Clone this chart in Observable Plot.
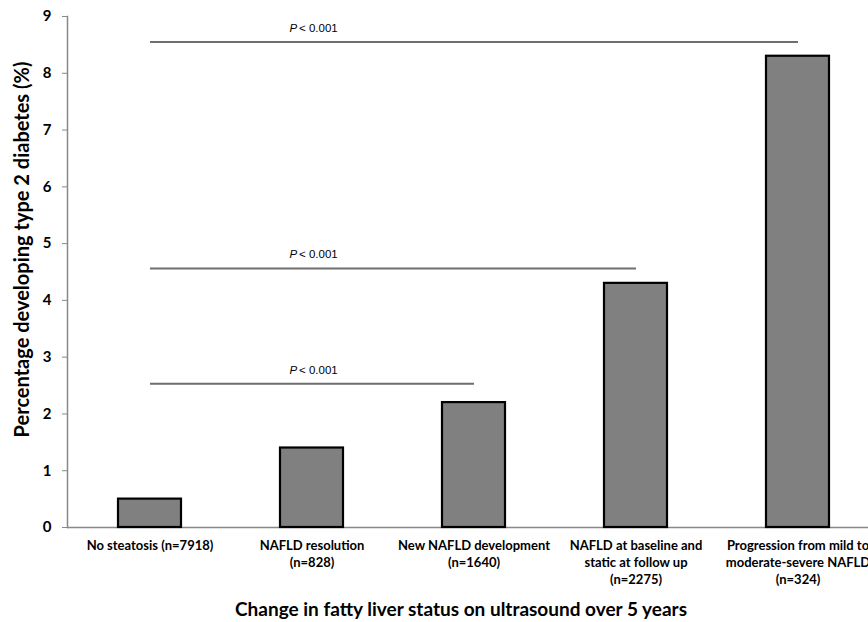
<!DOCTYPE html>
<html><head><meta charset="utf-8">
<script src="https://cdn.jsdelivr.net/npm/d3@7"></script>
<script src="https://cdn.jsdelivr.net/npm/@observablehq/plot@0.6"></script>
<style>html,body{margin:0;padding:0;overflow:hidden;background:#fff} svg{max-width:none !important;height:622px !important}</style>
</head><body><div id="chart"></div>
<script>
const categories = [
  "No steatosis (n=7918)",
  "NAFLD resolution\n(n=828)",
  "New NAFLD development\n(n=1640)",
  "NAFLD at baseline and\nstatic at follow up\n(n=2275)",
  "Progression from mild to\nmoderate-severe NAFLD\n(n=324)"
];
const values = [0.5, 1.4, 2.2, 4.3, 8.3];
const yTicks = [0, 1, 2, 3, 4, 5, 6, 7, 8, 9];
const compFrom = [categories[0], categories[0], categories[0]];
const compTo = [categories[4], categories[3], categories[2]];
const compY = [8.55, 4.56, 2.53];
const pText = "< 0.001";
const xTitle = "Change in fatty liver status on ultrasound over 5 years";
const yTitle = "Percentage developing type 2 diabetes (%)";

const bars = categories.map((c, i) => ({cat: c, value: values[i]}));
const comps = compY.map((y, i) => ({from: compFrom[i], to: compTo[i], y}));

const plot = Plot.plot({
  width: 880, height: 622,
  marginLeft: 67, marginRight: 0, marginTop: 16, marginBottom: 95,
  style: {fontFamily: "Lato, 'Open Sans', sans-serif", background: "white", color: "#000", maxWidth: "none"},
  x: {domain: categories, paddingInner: 0.61, paddingOuter: 0.305, axis: null},
  y: {domain: [0, 9], axis: null},
  marks: [
    Plot.ruleY([0], {stroke: "#888", strokeWidth: 1.5}),
    Plot.frame({anchor: "left", stroke: "#888", strokeWidth: 1.5}),
    Plot.barY(bars, {x: "cat", y: "value", fill: "#808080", stroke: "#000", strokeWidth: 2.2}),
    Plot.axisY({ticks: yTicks, tickSize: 5, tickPadding: 11, stroke: "#888", fill: "#000", fontSize: 15, fontWeight: "bold", label: null, tickFormat: d => String(d)}),
    Plot.text(categories, {x: d => d, frameAnchor: "bottom", lineAnchor: "top", dy: 10, fontSize: 13, fontWeight: "bold", lineHeight: 1.31, fill: "#000"}),
    Plot.link(comps, {x1: "from", x2: "to", y1: "y", y2: "y", stroke: "#6e6e6e", strokeWidth: 2}),
    Plot.text(comps, {x: () => categories[1], y: "y", text: () => "P", fontStyle: "italic", textAnchor: "start", dx: -22.5, dy: -14, fontSize: 11.5, fontFamily: "Liberation Sans, sans-serif", fill: "#000"}),
    Plot.text(comps, {x: () => categories[1], y: "y", text: () => pText, textAnchor: "start", dx: -13, dy: -14, fontSize: 11.5, fontFamily: "Liberation Sans, sans-serif", fill: "#000"}),
    Plot.text([xTitle], {frameAnchor: "bottom", textAnchor: "middle", dx: -13, dy: 88, fontSize: 19, fontWeight: "bold", fill: "#000"}),
    Plot.text([yTitle], {frameAnchor: "left", textAnchor: "middle", rotate: -90, dx: -45, dy: -22.5, fontSize: 20, fontWeight: "bold", fill: "#000"})
  ]
});
document.getElementById("chart").appendChild(plot);
</script>
</body></html>
